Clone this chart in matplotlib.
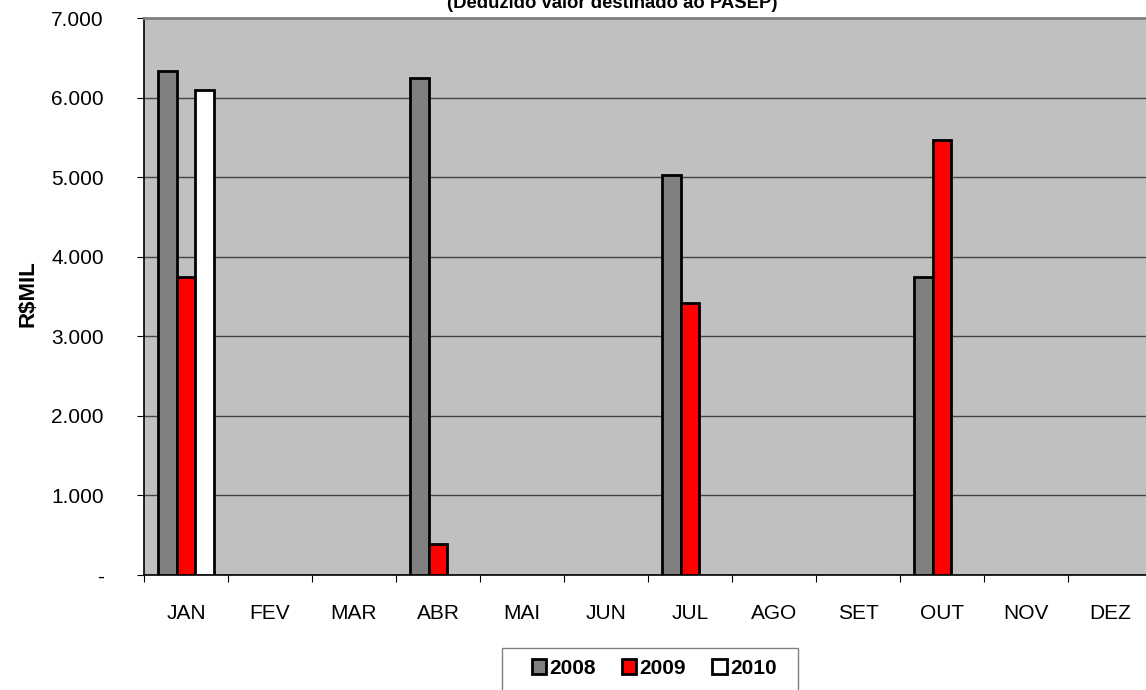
# monthly transfers chart (R$MIL) - 2008 / 2009 / 2010
import numpy as np
import matplotlib.pyplot as plt
from matplotlib.ticker import FuncFormatter, FixedLocator
from matplotlib.patches import Patch, Rectangle

plt.rcParams['font.family'] = ['Liberation Sans', 'DejaVu Sans']

months = ['JAN', 'FEV', 'MAR', 'ABR', 'MAI', 'JUN',
          'JUL', 'AGO', 'SET', 'OUT', 'NOV', 'DEZ']
years = ['2008', '2009', '2010']
v2008 = [6330, None, None, 6245, None, None, 5030, None, None, 3745, None, None]
v2009 = [3740, None, None, 390, None, None, 3420, None, None, 5470, None, None]
v2010 = [6100, None, None, None, None, None, None, None, None, None, None, None]
colors = ['#808080', '#FF0000', '#FFFFFF']

W, H = 1146, 690
fig = plt.figure(figsize=(W / 100, H / 100), dpi=100)
ax = fig.add_axes([144 / W, (H - 575) / H, 1008 / W, 557 / H])
ax.set_facecolor('#C0C0C0')

x = np.arange(len(months))
bw = 0.226
for i, (vals, c) in enumerate(zip([v2008, v2009, v2010], colors)):
    h = np.array([np.nan if v is None else v for v in vals], dtype=float)
    ax.bar(x + (i - 1) * bw, h, width=bw, color=c, edgecolor='black',
           linewidth=2, zorder=3)

ax.set_xlim(-0.5, 11.5)
ax.set_ylim(0, 7000)
ax.set_yticks(np.arange(0, 7001, 1000))
ax.yaxis.set_major_formatter(FuncFormatter(
    lambda v, p: '-' if v == 0 else f'{v:,.0f}'.replace(',', '.')))
ax.grid(axis='y', color='#444444', linewidth=1)
ax.set_axisbelow(True)

ax.xaxis.set_major_locator(FixedLocator(np.arange(-0.5, 12, 1)))
ax.xaxis.set_minor_locator(FixedLocator(x))
ax.set_xticklabels([''] * 13)
ax.set_xticklabels(months, minor=True)
ax.tick_params(axis='x', which='major', direction='out', length=5, color='black')
ax.tick_params(axis='x', which='minor', length=0, pad=21, labelsize=15)
ax.tick_params(axis='y', direction='out', length=5, pad=24, labelsize=15)

for s in ['left', 'bottom']:
    ax.spines[s].set_color('black')
    ax.spines[s].set_linewidth(1.2)
ax.spines['top'].set_color('#808080')
ax.spines['top'].set_linewidth(2)
ax.spines['right'].set_visible(False)

fig.text(28 / W, 1 - 294 / H, 'R$MIL', rotation=90, ha='center', va='center',
         fontsize=16, fontweight='bold')
fig.text(612 / W, 1 - 8 / H, '(Deduzido valor destinado ao PASEP)',
         ha='center', va='baseline', fontsize=13.3, fontweight='bold')

# legend box runs off the bottom edge like the reference
fig.patches.append(Rectangle((502 / W, -0.05), 296 / W, (H - 648) / H + 0.05,
                             transform=fig.transFigure, facecolor='white',
                             edgecolor='#808080', linewidth=1, zorder=1))
handles = [Patch(facecolor=c, edgecolor='black', linewidth=2) for c in colors]
leg = fig.legend(handles, years, loc='center',
                 bbox_to_anchor=(654 / W, 1 - 668 / H), ncol=3,
                 frameon=False, handlelength=0.7,
                 handleheight=0.7, handletextpad=0.15, columnspacing=1.25,
                 borderpad=0.2, prop={'size': 15, 'weight': 'bold'})
leg.set_zorder(2)

fig.savefig('out.png', dpi=100)
